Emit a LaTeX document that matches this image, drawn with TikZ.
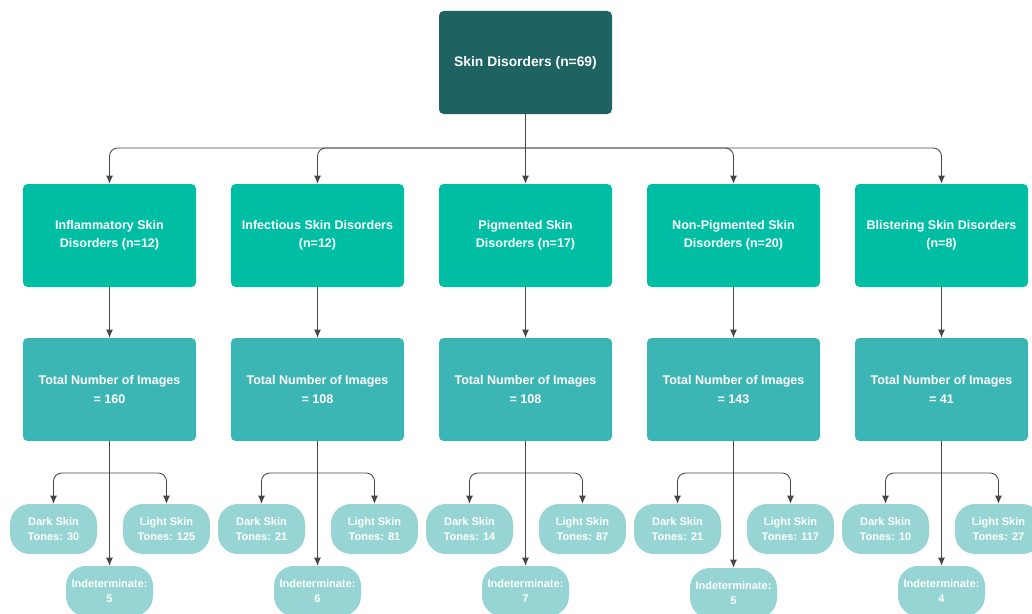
\documentclass[tikz,border=0pt]{standalone}
\usepackage{fontspec}
\setmainfont{Liberation Sans}
\usetikzlibrary{arrows.meta}
\definecolor{rootcol}{RGB}{30,98,98}
\definecolor{groupcol}{RGB}{0,190,163}
\definecolor{totalcol}{RGB}{60,182,180}
\definecolor{tonecol}{RGB}{150,213,211}
\definecolor{linecol}{RGB}{70,70,70}
\begin{document}
\begin{tikzpicture}[x=0.03cm, y=-0.03cm,
    rootbox/.style={fill=rootcol, rounded corners=4pt, minimum width=5.19cm, minimum height=3.09cm, text=white, font=\bfseries\fontsize{10.7}{15.5}\selectfont, align=center},
    groupbox/.style={rootbox, fill=groupcol},
    totalbox/.style={rootbox, fill=totalcol},
    tonebox/.style={fill=tonecol, rounded corners=0.6cm, minimum width=2.61cm, minimum height=1.5cm, text=white, font=\bfseries\fontsize{9.4}{12.2}\selectfont, align=center, inner sep=1pt},
    arr/.style={draw=linecol, line width=0.75pt, -{Latex[length=7pt, width=6pt]}},
    link/.style={draw=linecol, line width=0.75pt}]
    \useasboundingbox (0,0) rectangle (1032,614);

    % Root
    \node[rootbox, font=\bfseries\fontsize{11.8}{15.5}\selectfont] (root) at (525.5, 62.5) {Skin Disorders (n=69)};
    \coordinate (bus) at (525.5, 148);

    % Groups
    \node[groupbox] (g1) at (109.5, 235.5) {Inflammatory Skin\\Disorders (n=12)};
    \node[groupbox] (g2) at (317.5, 235.5) {Infectious Skin Disorders\\(n=12)};
    \node[groupbox] (g3) at (525.5, 235.5) {Pigmented Skin\\Disorders (n=17)};
    \node[groupbox] (g4) at (733.5, 235.5) {Non-Pigmented Skin\\Disorders (n=20)};
    \node[groupbox] (g5) at (941.5, 235.5) {Blistering Skin Disorders\\(n=8)};

    \draw[link] (root.south) -- (bus);
    \draw[arr, rounded corners=7pt] (bus) -| (g1.north);
    \draw[arr, rounded corners=7pt] (bus) -| (g2.north);
    \draw[arr] (bus) -- (g3.north);
    \draw[arr, rounded corners=7pt] (bus) -| (g4.north);
    \draw[arr, rounded corners=7pt] (bus) -| (g5.north);

    % Totals
    \node[totalbox] (t1) at (109.5, 389.5) {Total Number of Images\\= 160};
    \node[totalbox] (t2) at (317.5, 389.5) {Total Number of Images\\= 108};
    \node[totalbox] (t3) at (525.5, 389.5) {Total Number of Images\\= 108};
    \node[totalbox] (t4) at (733.5, 389.5) {Total Number of Images\\= 143};
    \node[totalbox] (t5) at (941.5, 389.5) {Total Number of Images\\= 41};

    \draw[arr] (g1) -- (t1);
    \draw[arr] (g2) -- (t2);
    \draw[arr] (g3) -- (t3);
    \draw[arr] (g4) -- (t4);
    \draw[arr] (g5) -- (t5);

    % Inflammatory
    \coordinate (j1) at (109.5, 473);
    \node[tonebox] (d1) at (53.5, 529) {Dark Skin\\Tones: 30};
    \node[tonebox] (l1) at (166.5, 529) {Light Skin\\Tones: 125};
    \node[tonebox] (i1) at (109.5, 591) {Indeterminate:\\5};
    \draw[arr] (t1.south) -- (i1.north);
    \draw[arr, rounded corners=7pt] (j1) -| (d1.north);
    \draw[arr, rounded corners=7pt] (j1) -| (l1.north);

    % Infectious
    \coordinate (j2) at (317.5, 473);
    \node[tonebox] (d2) at (261.5, 529) {Dark Skin\\Tones: 21};
    \node[tonebox] (l2) at (374.5, 529) {Light Skin\\Tones: 81};
    \node[tonebox] (i2) at (317.5, 591) {Indeterminate:\\6};
    \draw[arr] (t2.south) -- (i2.north);
    \draw[arr, rounded corners=7pt] (j2) -| (d2.north);
    \draw[arr, rounded corners=7pt] (j2) -| (l2.north);

    % Pigmented
    \coordinate (j3) at (525.5, 473);
    \node[tonebox] (d3) at (469.5, 529) {Dark Skin\\Tones: 14};
    \node[tonebox] (l3) at (582.5, 529) {Light Skin\\Tones: 87};
    \node[tonebox] (i3) at (525.5, 591) {Indeterminate:\\7};
    \draw[arr] (t3.south) -- (i3.north);
    \draw[arr, rounded corners=7pt] (j3) -| (d3.north);
    \draw[arr, rounded corners=7pt] (j3) -| (l3.north);

    % Non-pigmented
    \coordinate (j4) at (733.5, 473);
    \node[tonebox] (d4) at (677.5, 529) {Dark Skin\\Tones: 21};
    \node[tonebox] (l4) at (790.5, 529) {Light Skin\\Tones: 117};
    \node[tonebox] (i4) at (733.5, 593) {Indeterminate:\\5};
    \draw[arr] (t4.south) -- (i4.north);
    \draw[arr, rounded corners=7pt] (j4) -| (d4.north);
    \draw[arr, rounded corners=7pt] (j4) -| (l4.north);

    % Blistering
    \coordinate (j5) at (941.5, 473);
    \node[tonebox] (d5) at (885.5, 529) {Dark Skin\\Tones: 10};
    \node[tonebox] (l5) at (998.5, 529) {Light Skin\\Tones: 27};
    \node[tonebox] (i5) at (941.5, 591) {Indeterminate:\\4};
    \draw[arr] (t5.south) -- (i5.north);
    \draw[arr, rounded corners=7pt] (j5) -| (d5.north);
    \draw[arr, rounded corners=7pt] (j5) -| (l5.north);
\end{tikzpicture}
\end{document}
